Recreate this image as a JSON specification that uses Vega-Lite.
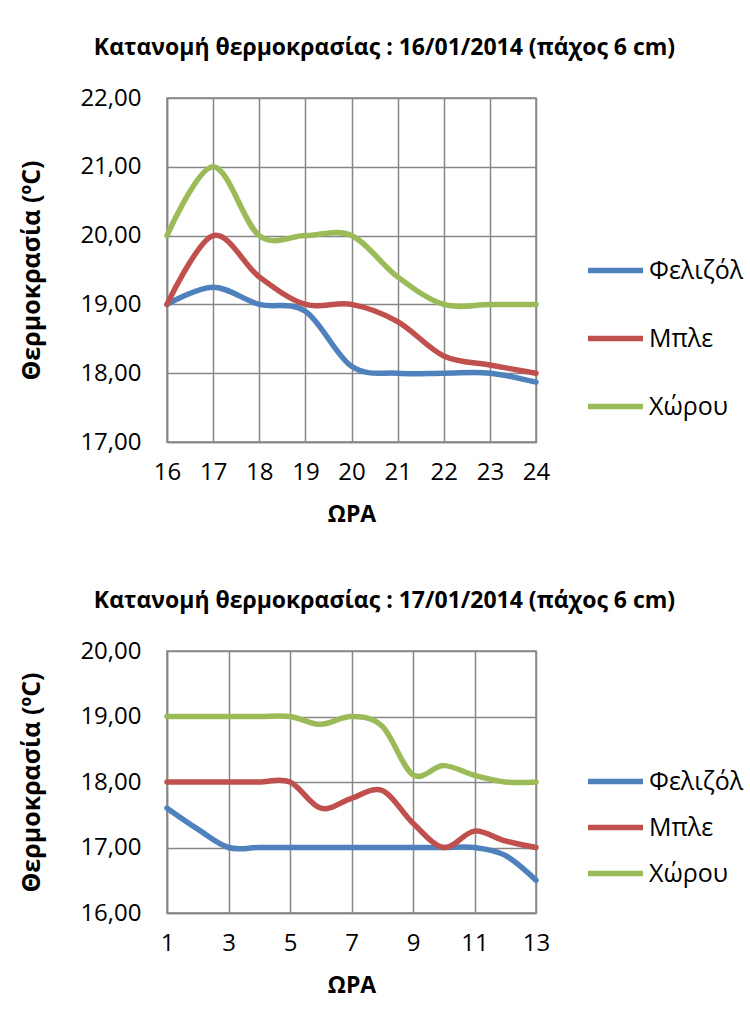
{
  "$schema": "https://vega.github.io/schema/vega-lite/v6.json",
  "padding": {"left": 19, "top": 36, "right": 0, "bottom": 0},
  "background": "white",
  "datasets": {
    "d16": [
      {"h": 16, "s": "Φελιζόλ", "t": 19.0}, {"h": 17, "s": "Φελιζόλ", "t": 19.25}, {"h": 18, "s": "Φελιζόλ", "t": 19.0},
      {"h": 19, "s": "Φελιζόλ", "t": 18.9}, {"h": 20, "s": "Φελιζόλ", "t": 18.1}, {"h": 21, "s": "Φελιζόλ", "t": 18.0},
      {"h": 22, "s": "Φελιζόλ", "t": 18.0}, {"h": 23, "s": "Φελιζόλ", "t": 18.0}, {"h": 24, "s": "Φελιζόλ", "t": 17.87},
      {"h": 16, "s": "Μπλε", "t": 19.0}, {"h": 17, "s": "Μπλε", "t": 20.0}, {"h": 18, "s": "Μπλε", "t": 19.4},
      {"h": 19, "s": "Μπλε", "t": 19.0}, {"h": 20, "s": "Μπλε", "t": 19.0}, {"h": 21, "s": "Μπλε", "t": 18.75},
      {"h": 22, "s": "Μπλε", "t": 18.25}, {"h": 23, "s": "Μπλε", "t": 18.12}, {"h": 24, "s": "Μπλε", "t": 18.0},
      {"h": 16, "s": "Χώρου", "t": 20.0}, {"h": 17, "s": "Χώρου", "t": 21.0}, {"h": 18, "s": "Χώρου", "t": 20.0},
      {"h": 19, "s": "Χώρου", "t": 20.0}, {"h": 20, "s": "Χώρου", "t": 20.0}, {"h": 21, "s": "Χώρου", "t": 19.4},
      {"h": 22, "s": "Χώρου", "t": 19.0}, {"h": 23, "s": "Χώρου", "t": 19.0}, {"h": 24, "s": "Χώρου", "t": 19.0}
    ],
    "d17": [
      {"h": 1, "s": "Φελιζόλ", "t": 17.6}, {"h": 2, "s": "Φελιζόλ", "t": 17.28}, {"h": 3, "s": "Φελιζόλ", "t": 17.0},
      {"h": 4, "s": "Φελιζόλ", "t": 17.0}, {"h": 5, "s": "Φελιζόλ", "t": 17.0}, {"h": 6, "s": "Φελιζόλ", "t": 17.0},
      {"h": 7, "s": "Φελιζόλ", "t": 17.0}, {"h": 8, "s": "Φελιζόλ", "t": 17.0}, {"h": 9, "s": "Φελιζόλ", "t": 17.0},
      {"h": 10, "s": "Φελιζόλ", "t": 17.0}, {"h": 11, "s": "Φελιζόλ", "t": 17.0}, {"h": 12, "s": "Φελιζόλ", "t": 16.88},
      {"h": 13, "s": "Φελιζόλ", "t": 16.5},
      {"h": 1, "s": "Μπλε", "t": 18.0}, {"h": 2, "s": "Μπλε", "t": 18.0}, {"h": 3, "s": "Μπλε", "t": 18.0},
      {"h": 4, "s": "Μπλε", "t": 18.0}, {"h": 5, "s": "Μπλε", "t": 18.0}, {"h": 6, "s": "Μπλε", "t": 17.6},
      {"h": 7, "s": "Μπλε", "t": 17.75}, {"h": 8, "s": "Μπλε", "t": 17.87}, {"h": 9, "s": "Μπλε", "t": 17.37},
      {"h": 10, "s": "Μπλε", "t": 17.0}, {"h": 11, "s": "Μπλε", "t": 17.25}, {"h": 12, "s": "Μπλε", "t": 17.1},
      {"h": 13, "s": "Μπλε", "t": 17.0},
      {"h": 1, "s": "Χώρου", "t": 19.0}, {"h": 2, "s": "Χώρου", "t": 19.0}, {"h": 3, "s": "Χώρου", "t": 19.0},
      {"h": 4, "s": "Χώρου", "t": 19.0}, {"h": 5, "s": "Χώρου", "t": 19.0}, {"h": 6, "s": "Χώρου", "t": 18.88},
      {"h": 7, "s": "Χώρου", "t": 19.0}, {"h": 8, "s": "Χώρου", "t": 18.85}, {"h": 9, "s": "Χώρου", "t": 18.11},
      {"h": 10, "s": "Χώρου", "t": 18.25}, {"h": 11, "s": "Χώρου", "t": 18.1}, {"h": 12, "s": "Χώρου", "t": 18.0},
      {"h": 13, "s": "Χώρου", "t": 18.0}
    ]
  },
  "spacing": 62,
  "resolve": {"scale": {"color": "independent", "x": "independent", "y": "independent"}, "legend": {"color": "independent"}},
  "vconcat": [
    {
      "data": {"name": "d16"},
      "title": {"text": "Κατανομή θερμοκρασίας : 16/01/2014 (πάχος 6 cm)", "offset": 26},
      "width": 369,
      "height": 344,
      "mark": {"type": "line", "interpolate": "cardinal", "strokeWidth": 5.5, "strokeCap": "round", "strokeJoin": "round"},
      "encoding": {
        "x": {"field": "h", "type": "quantitative", "title": "ΩΡΑ",
              "scale": {"domain": [16, 24], "nice": false, "zero": false},
              "axis": {"values": [16, 17, 18, 19, 20, 21, 22, 23, 24], "format": "d"}},
        "y": {"field": "t", "type": "quantitative", "title": "Θερμοκρασία (ºC)",
              "scale": {"domain": [17, 22], "nice": false, "zero": false},
              "axis": {"values": [17, 18, 19, 20, 21, 22], "labelExpr": "replace(format(datum.value, '.2f'), '.', ',')"}},
        "color": {"field": "s", "type": "nominal", "title": null,
                  "scale": {"domain": ["Φελιζόλ", "Μπλε", "Χώρου"], "range": ["#4F81BD", "#C0504D", "#9BBB59"]},
                  "legend": {"orient": "none", "legendX": 418, "legendY": 142, "rowPadding": 24}}
      }
    },
    {
      "data": {"name": "d17"},
      "title": {"text": "Κατανομή θερμοκρασίας : 17/01/2014 (πάχος 6 cm)", "offset": 26},
      "width": 369,
      "height": 262,
      "mark": {"type": "line", "interpolate": "cardinal", "strokeWidth": 5.5, "strokeCap": "round", "strokeJoin": "round"},
      "encoding": {
        "x": {"field": "h", "type": "quantitative", "title": "ΩΡΑ",
              "scale": {"domain": [1, 13], "nice": false, "zero": false},
              "axis": {"values": [1, 3, 5, 7, 9, 11, 13], "format": "d"}},
        "y": {"field": "t", "type": "quantitative", "title": "Θερμοκρασία (ºC)",
              "scale": {"domain": [16, 20], "nice": false, "zero": false},
              "axis": {"values": [16, 17, 18, 19, 20], "labelExpr": "replace(format(datum.value, '.2f'), '.', ',')"}},
        "color": {"field": "s", "type": "nominal", "title": null,
                  "scale": {"domain": ["Φελιζόλ", "Μπλε", "Χώρου"], "range": ["#4F81BD", "#C0504D", "#9BBB59"]},
                  "legend": {"orient": "none", "legendX": 418, "legendY": 100, "rowPadding": 2}}
      }
    }
  ],
  "config": {
    "font": "Open Sans",
    "view": {"stroke": "#878787", "strokeWidth": 1.5},
    "title": {"fontSize": 23, "fontWeight": "bold", "color": "black", "anchor": "middle", "frame": "group", "dx": 33, "font": "Open Sans"},
    "axis": {
      "grid": true, "gridColor": "#878787", "gridWidth": 1.5, "gridOpacity": 1,
      "domainColor": "#878787", "domainWidth": 1.5,
      "ticks": false,
      "labelFontSize": 24, "labelColor": "black", "labelFont": "Open Sans",
      "titleFontSize": 23, "titleFontWeight": "bold", "titleColor": "black", "titleFont": "Open Sans"
    },
    "axisX": {"labelPadding": 18, "titlePadding": 19, "labelFlush": false},
    "axisY": {"labelPadding": 26, "titlePadding": 35, "titleFontSize": 25},
    "legend": {
      "symbolType": "stroke", "symbolSize": 3025, "symbolStrokeWidth": 5.5,
      "labelFontSize": 25, "labelColor": "black", "labelFont": "Open Sans", "labelOffset": 3,
      "padding": 0
    }
  }
}
